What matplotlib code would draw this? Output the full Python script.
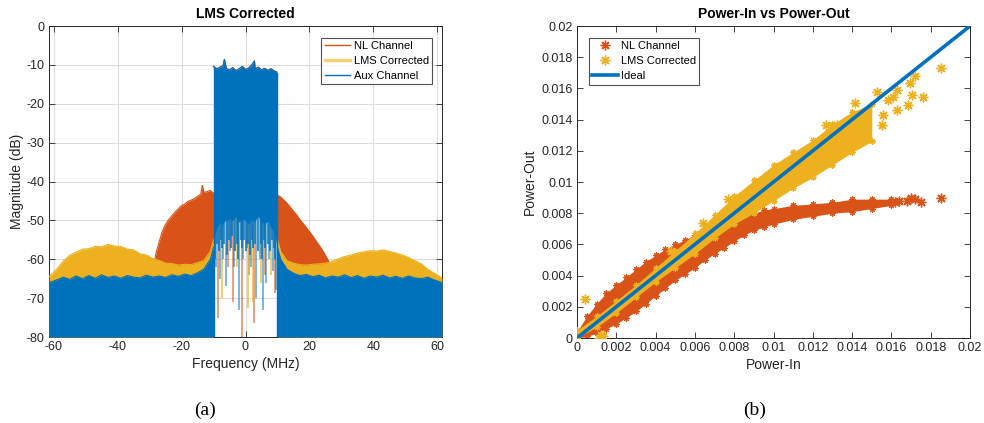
import numpy as np
import matplotlib
matplotlib.use("Agg")
import matplotlib.pyplot as plt

plt.rcParams['font.family'] = ['Liberation Sans', 'DejaVu Sans']
plt.rcParams['axes.unicode_minus'] = False

C_NL = '#D95319'
C_LMS = '#EDB120'
C_AUX = '#0072BD'
C_TXT = '#262626'

# ---------------- Panel (a) data: spectrum envelopes (dB) ----------------
freq_left = [-61.4, -59, -57, -55, -53, -51, -49, -47, -45, -43, -41, -39, -37, -35,
             -33, -31, -29, -27, -25, -23, -21, -19, -17, -15, -13, -11, -10]
aux_left = [-66.0, -65.3, -64.6, -65.2, -64.3, -65.0, -64.2, -64.9, -64.0, -64.7, -64.3,
            -64.9, -64.2, -64.6, -64.8, -64.1, -64.6, -64.3, -64.7, -64.0, -64.4, -63.8,
            -64.2, -63.5, -62.5, -60.0, -57.0]
lms_left = [-64.5, -62.5, -60.5, -59.0, -58.2, -57.4, -57.3, -56.7, -56.8, -56.2, -56.6,
            -56.7, -57.4, -57.6, -58.6, -58.9, -59.8, -60.3, -61.0, -61.1, -61.5, -61.3,
            -61.4, -60.9, -60.3, -58.0, -55.0]

freq_right = [10, 11, 13, 15, 17, 19, 21, 23, 25, 27, 29, 31, 33, 35, 37, 39, 41, 43,
              45, 47, 49, 51, 53, 55, 57, 59, 61.4]
aux_right = [-57.0, -60.0, -62.6, -63.6, -64.2, -63.9, -64.5, -64.1, -64.8, -64.3, -64.6,
             -64.0, -64.7, -64.2, -64.9, -64.3, -64.6, -64.1, -64.8, -64.4, -64.9, -64.3,
             -64.8, -65.0, -64.6, -65.3, -66.0]
lms_right = [-55.0, -58.0, -60.4, -61.0, -61.4, -61.5, -61.3, -61.2, -61.0, -60.6, -59.9,
             -59.3, -58.9, -58.4, -58.1, -57.8, -57.9, -57.6, -58.0, -58.4, -58.9, -59.6,
             -60.4, -61.2, -62.6, -63.6, -64.8]

nl_freq_left = [-28.5, -28, -27, -26, -25, -24, -23, -22, -21, -20, -19, -18, -17, -16,
                -15, -14, -13.5, -13, -12, -11, -10]
nl_left = [-61.0, -58.5, -55.5, -52.8, -51.0, -49.8, -48.8, -47.8, -47.0, -46.2, -45.8,
           -45.1, -44.8, -44.4, -43.8, -43.3, -41.0, -42.8, -42.6, -42.3, -43.0]
nl_freq_right = [10, 11, 12, 13, 14, 15, 16, 17, 18, 19, 20, 21, 22, 23, 24, 25, 26, 26.5]
nl_right = [-43.5, -44.0, -44.8, -45.6, -46.6, -47.6, -48.6, -49.8, -50.8, -51.8, -52.9,
            -54.0, -55.2, -56.4, -57.6, -59.0, -60.5, -62.0]

band_freq = [-10, -9, -8, -7, -6.6, -6, -5, -4, -3, -2, -1, 0, 1, 2, 2.8, 3, 4, 5, 6, 7, 8, 9, 9.7]
band_top = [-10.4, -11.0, -10.6, -10.2, -8.6, -10.9, -11.3, -10.7, -11.5, -11.0, -10.4,
            -11.2, -10.8, -10.0, -9.0, -11.0, -10.6, -11.3, -10.9, -11.4, -11.0, -11.6, -11.8]
band_floor = [-55.0, -52.0, -50.5, -51.0, -50.2, -50.0, -49.5, -50.0, -49.0, -50.5, -49.5,
              -50.0, -51.0, -49.5, -50.5, -50.0, -49.0, -50.5, -51.0, -50.0, -52.0, -53.0, -56.0]

# dense shallow in-band notches (blue)
aux_fine_f = [-9.6, -9.0, -8.4, -7.7, -7.2, -6.6, -5.8, -5.3, -4.5, -4.1, -3.2, -2.6, -2.2,
              -1.5, -1.1, -0.4, 0.0, 0.9, 1.3, 2.0, 2.5, 3.0, 3.8, 4.7, 5.1, 5.8, 6.2, 7.0,
              7.8, 8.2, 8.9, 9.2]
aux_fine_db = [-60, -56, -58, -55, -57, -56, -59, -55, -57, -54, -58, -56, -60, -55, -57,
               -55, -58, -56, -59, -55, -57, -56, -58, -56, -60, -55, -57, -56, -58, -55, -57, -60]
aux_spike_f = [-9.3, -8.1, -7.0, -6.0, -4.8, -3.5, -1.9, -0.8, 0.5, 1.6, 3.4, 4.4, 5.4, 6.5, 7.5, 8.6, 9.4]
aux_spike_db = [-62, -65, -60, -67, -58, -62, -73, -60, -57, -62, -70, -60, -73, -66, -60, -63, -68]
nl_spike_f = [-8.6, -5.6, -4.0, -1.0, 1.2, 2.8, 6.0, 9.1]
nl_spike_db = [-75, -62, -71, -80, -64, -76.5, -64, -68.6]
lms_spike_f = [-7.3, -2.8, 0.7, 2.2, 5.0, 8.0]
lms_spike_db = [-70, -62, -72.5, -71, -66, -64]

# ---------------- Panel (b) data: scatter bands ----------------
nl_x = [0.0000, 0.0005, 0.0010, 0.0015, 0.0020, 0.0025, 0.0030, 0.0035, 0.0040, 0.0045,
        0.0050, 0.0055, 0.0060, 0.0065, 0.0070, 0.0075, 0.0080, 0.0085, 0.0090, 0.0095,
        0.0100, 0.0110, 0.0120, 0.0130, 0.0140, 0.0150, 0.0160]
nl_lo = [0.0000, 0.0001, 0.0003, 0.0006, 0.0009, 0.0013, 0.0017, 0.0022, 0.0027, 0.0032,
         0.0037, 0.0041, 0.0045, 0.0050, 0.0054, 0.0058, 0.0062, 0.0066, 0.0069, 0.0071,
         0.0073, 0.0076, 0.0078, 0.0080, 0.0081, 0.0083, 0.0085]
nl_hi = [0.0004, 0.0014, 0.0022, 0.0029, 0.0034, 0.0039, 0.0044, 0.0049, 0.0053, 0.0057,
         0.0060, 0.0063, 0.0066, 0.0069, 0.0072, 0.0074, 0.0076, 0.0078, 0.0080, 0.0082,
         0.0083, 0.0085, 0.0086, 0.0087, 0.0089, 0.0089, 0.0089]
nl_out_x = [0.0162, 0.0164, 0.0168, 0.0170, 0.0172, 0.0175, 0.0185]
nl_out_y = [0.0087, 0.0088, 0.0088, 0.0090, 0.0089, 0.0087, 0.0090]

lms_x = [0.0000, 0.0010, 0.0020, 0.0030, 0.0040, 0.0050, 0.0060, 0.0070, 0.0080, 0.0090,
         0.0100, 0.0110, 0.0120, 0.0130, 0.0140, 0.0150]
lms_lo = [0.0000, 0.0007, 0.0016, 0.0026, 0.0036, 0.0045, 0.0054, 0.0064, 0.0073, 0.0080,
          0.0088, 0.0096, 0.0103, 0.0111, 0.0119, 0.0126]
lms_hi = [0.0005, 0.0014, 0.0024, 0.0034, 0.0045, 0.0056, 0.0067, 0.0079, 0.0091, 0.0101,
          0.0111, 0.0119, 0.0127, 0.0137, 0.0145, 0.0150]
lms_out_x = [0.0004, 0.0011, 0.0012, 0.0013, 0.0064, 0.0077, 0.0048, 0.01851, 0.0172,
             0.01695, 0.01703, 0.01759, 0.01685, 0.01627, 0.01583, 0.01627, 0.01526,
             0.01415, 0.01558, 0.0155, 0.01466, 0.01322, 0.01288, 0.01266, 0.01608]
lms_out_y = [0.0025, 0.0000, 0.0002, 0.0001, 0.0074, 0.0089, 0.0056, 0.01729, 0.0168,
             0.01633, 0.01558, 0.01547, 0.01494, 0.0159, 0.01526, 0.01462, 0.01579,
             0.01506, 0.0143, 0.01365, 0.01346, 0.01365, 0.01141, 0.01365, 0.01547]

ideal = [0.0, 0.02]

x_ticks_b = [0, 0.002, 0.004, 0.006, 0.008, 0.01, 0.012, 0.014, 0.016, 0.018, 0.02]
tick_labels_b = ['0', '0.002', '0.004', '0.006', '0.008', '0.01', '0.012', '0.014',
                 '0.016', '0.018', '0.02']

fig = plt.figure(figsize=(9.84, 4.23), dpi=100)
axa = fig.add_axes([49/984, 1-337/423, 393/984, 311/423])
axb = fig.add_axes([577/984, 1-338/423, 393/984, 312/423])

# ---------------- Panel (a) ----------------
axa.grid(True, color='#dcdcdc', linewidth=0.8, zorder=0)
axa.set_axisbelow(True)
floor = -80
spike_top = -45
axa.fill_between(nl_freq_left, floor, nl_left, color=C_NL, lw=0, zorder=2)
axa.plot(nl_freq_left, nl_left, color=C_NL, lw=0.8, zorder=2)
axa.fill_between(nl_freq_right, floor, nl_right, color=C_NL, lw=0, zorder=2)
axa.plot(nl_freq_right, nl_right, color=C_NL, lw=0.8, zorder=2)
axa.fill_between(freq_left, floor, lms_left, color=C_LMS, lw=0, zorder=3)
axa.plot(freq_left, lms_left, color=C_LMS, lw=0.8, zorder=3)
axa.fill_between(freq_right, floor, lms_right, color=C_LMS, lw=0, zorder=3)
axa.plot(freq_right, lms_right, color=C_LMS, lw=0.8, zorder=3)
axa.vlines(nl_spike_f, spike_top, nl_spike_db, color=C_NL, lw=1.2, alpha=0.65, zorder=3)
axa.vlines(lms_spike_f, spike_top, lms_spike_db, color=C_LMS, lw=1.2, alpha=0.75, zorder=3)
axa.vlines(aux_spike_f, spike_top, aux_spike_db, color=C_AUX, lw=1.2, alpha=0.6, zorder=4)
axa.vlines(aux_fine_f, spike_top, aux_fine_db, color=C_AUX, lw=1.3, alpha=0.85, zorder=4)
axa.fill_between(freq_left, floor, aux_left, color=C_AUX, lw=0, zorder=4)
axa.plot(freq_left, aux_left, color=C_AUX, lw=0.8, zorder=4)
axa.fill_between(freq_right, floor, aux_right, color=C_AUX, lw=0, zorder=4)
axa.plot(freq_right, aux_right, color=C_AUX, lw=0.8, zorder=4)
axa.plot(band_freq, band_top, color=C_NL, lw=1.0, zorder=4)
axa.fill_between(band_freq, band_floor, band_top, color=C_AUX, lw=0, zorder=5)
axa.plot(band_freq, band_top, color=C_AUX, lw=0.7, zorder=5)
axa.vlines([band_freq[0], band_freq[-1]], floor, [band_top[0], band_top[-1]], color=C_AUX, lw=1.0, zorder=5)

axa.set_xlim(-61.44, 61.44)
axa.set_ylim(-80, 0)
axa.set_xticks([-60, -40, -20, 0, 20, 40, 60])
axa.set_yticks(list(range(-80, 1, 10)))
axa.set_xlabel('Frequency (MHz)', fontsize=10, color=C_TXT, labelpad=3)
axa.set_ylabel('Magnitude (dB)', fontsize=10, color=C_TXT, labelpad=2)
axa.set_title('LMS Corrected', fontsize=10, fontweight='bold', color='black', pad=6)
h1, = axa.plot([], [], color=C_NL, lw=1.0, label='NL Channel')
h2, = axa.plot([], [], color=C_LMS, lw=2.5, alpha=0.6, label='LMS Corrected')
h3, = axa.plot([], [], color=C_AUX, lw=1.0, label='Aux Channel')
leg = axa.legend(handles=[h1, h2, h3], loc='upper right', fontsize=8, frameon=True,
                 fancybox=False, edgecolor=C_TXT, borderpad=0.3, labelspacing=0.45,
                 handlelength=2.3, handletextpad=0.3, borderaxespad=0.0,
                 bbox_to_anchor=(0.9745, 0.962))
leg.get_frame().set_linewidth(0.8)

# ---------------- Panel (b) ----------------
axb.fill_between(nl_x, nl_lo, nl_hi, color=C_NL, lw=0, zorder=2)
axb.plot(nl_x, nl_lo, ls='none', marker=(8, 2, 0), ms=4.5, mew=0.8, color=C_NL, zorder=2)
axb.plot(nl_x, nl_hi, ls='none', marker=(8, 2, 0), ms=4.5, mew=0.8, color=C_NL, zorder=2)
axb.plot(nl_out_x, nl_out_y, ls='none', marker=(8, 2, 0), ms=7, mew=1.0, color=C_NL, zorder=2)
axb.fill_between(lms_x, lms_lo, lms_hi, color=C_LMS, lw=0, zorder=3)
axb.plot(lms_x, lms_lo, ls='none', marker=(8, 2, 0), ms=4.5, mew=0.8, color=C_LMS, zorder=3)
axb.plot(lms_x, lms_hi, ls='none', marker=(8, 2, 0), ms=4.5, mew=0.8, color=C_LMS, zorder=3)
axb.plot(lms_out_x, lms_out_y, ls='none', marker=(8, 2, 0), ms=7, mew=1.0, color=C_LMS, zorder=3)
axb.plot(ideal, ideal, color=C_AUX, lw=2.6, zorder=4, solid_capstyle='butt')

axb.set_xlim(0, 0.02)
axb.set_ylim(0, 0.02)
axb.set_xticks(x_ticks_b)
axb.set_xticklabels(tick_labels_b)
axb.set_yticks(x_ticks_b)
axb.set_yticklabels(tick_labels_b)
axb.set_xlabel('Power-In', fontsize=10, color=C_TXT, labelpad=3)
axb.set_ylabel('Power-Out', fontsize=10, color=C_TXT, labelpad=3)
axb.set_title('Power-In vs Power-Out', fontsize=10, fontweight='bold', color='black', pad=6)
g1, = axb.plot([], [], ls='none', marker=(8, 2, 0), ms=7, mew=1.0, color=C_NL, label='NL Channel')
g2, = axb.plot([], [], ls='none', marker=(8, 2, 0), ms=7, mew=1.0, color=C_LMS, label='LMS Corrected')
g3, = axb.plot([], [], color=C_AUX, lw=2.6, label='Ideal')
legb = axb.legend(handles=[g1, g2, g3], loc='upper left', fontsize=8, frameon=True,
                  fancybox=False, edgecolor=C_TXT, borderpad=0.3, labelspacing=0.45,
                  handlelength=2.3, handletextpad=0.3, borderaxespad=0.0,
                  bbox_to_anchor=(0.03, 0.962))
legb.get_frame().set_linewidth(0.8)

for ax in (axa, axb):
    ax.tick_params(direction='in', top=True, right=True, length=4, width=0.6,
                   labelsize=9, colors=C_TXT, pad=3)
    for s in ax.spines.values():
        s.set_color(C_TXT)
        s.set_linewidth(0.7)

fig.text(205/984, 1-410/423, '(a)', fontsize=14, family='Liberation Serif', ha='center', va='center')
fig.text(755/984, 1-410/423, '(b)', fontsize=14, family='Liberation Serif', ha='center', va='center')

fig.savefig('out.png', dpi=100)
